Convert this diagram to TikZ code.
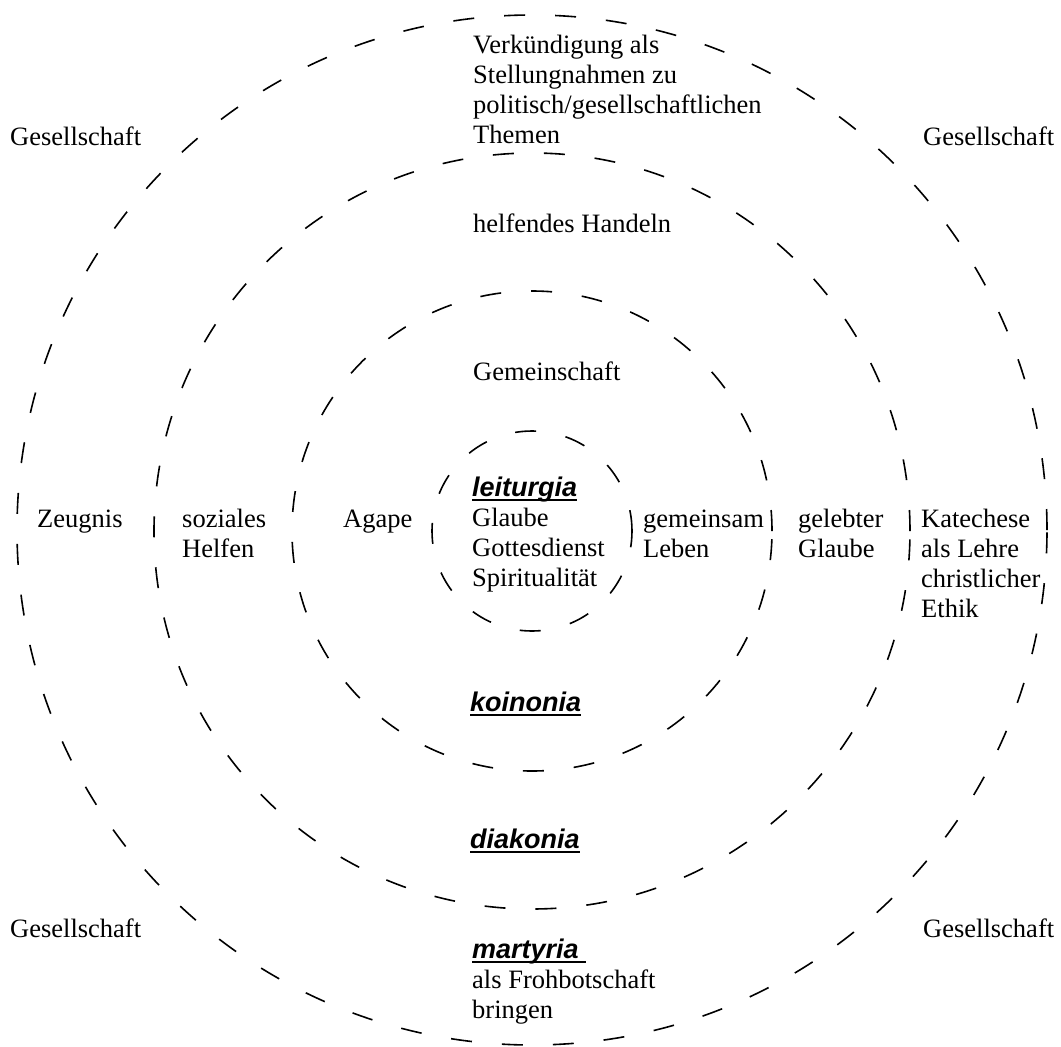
\documentclass[tikz,border=0pt]{standalone}
\usepackage{fontspec}
\setmainfont{Liberation Serif}
\newfontfamily\hsans{Liberation Sans}
\newcommand\ulsans[1]{{\hsans\bfseries\itshape\fontsize{27}{30}\selectfont\setbox0\hbox{#1}\rlap{\rule[-5pt]{\wd0}{2pt}}\box0}}
\begin{document}
\begin{tikzpicture}[x=1pt,y=-1pt,
  ring/.style={draw, circle, inner sep=0pt, line width=1.6pt, dash pattern=on 21pt off 30pt},
  txt/.style={anchor=north west, inner sep=0pt, align=left, font=\fontsize{26.5}{30}\selectfont}]
\useasboundingbox (0,0) rectangle (1061,1047);
% rings
\node[ring, minimum size=200pt] (r1) at (532,531) {};
\node[ring, minimum size=480pt] (r2) at (532,531) {};
\node[ring, minimum size=756pt] (r3) at (532,531) {};
\node[ring, minimum size=1030pt] (r4) at (532,530) {};
% texts
\node[txt] (verk) at (473,32) {\strut Verkündigung als\\Stellungnahmen zu\\politisch/gesellschaftlichen\\Themen};
\node[txt] (helf) at (473,211) {\strut helfendes Handeln};
\node[txt] (gem) at (473,359) {\strut Gemeinschaft};
\node[txt] (leit) at (472,475) {\strut\ulsans{leiturgia}\\Glaube\\Gottesdienst\\Spiritualität};
\node[txt] (gemle) at (643,506) {\strut gemeinsam\\Leben};
\node[txt] (geleb) at (798,506) {\strut gelebter\\Glaube};
\node[txt] (kat) at (921,506) {\strut Katechese\\als Lehre\\christlicher\\Ethik};
\node[txt] (zeug) at (37,506) {\strut Zeugnis};
\node[txt] (soz) at (182,506) {\strut soziales\\Helfen};
\node[txt] (agape) at (343,506) {\strut Agape};
\node[txt] (koin) at (470,690) {\strut\ulsans{koinonia}};
\node[txt] (diak) at (470,827) {\strut\ulsans{diakonia}};
\node[txt] (mart) at (472,937) {\strut\ulsans{martyria\ }\\als Frohbotschaft\\bringen};
\node[txt] (gtl) at (10,124) {\strut Gesellschaft};
\node[txt] (gtr) at (923,124) {\strut Gesellschaft};
\node[txt] (gbl) at (10,916) {\strut Gesellschaft};
\node[txt] (gbr) at (923,916) {\strut Gesellschaft};
\end{tikzpicture}
\end{document}
